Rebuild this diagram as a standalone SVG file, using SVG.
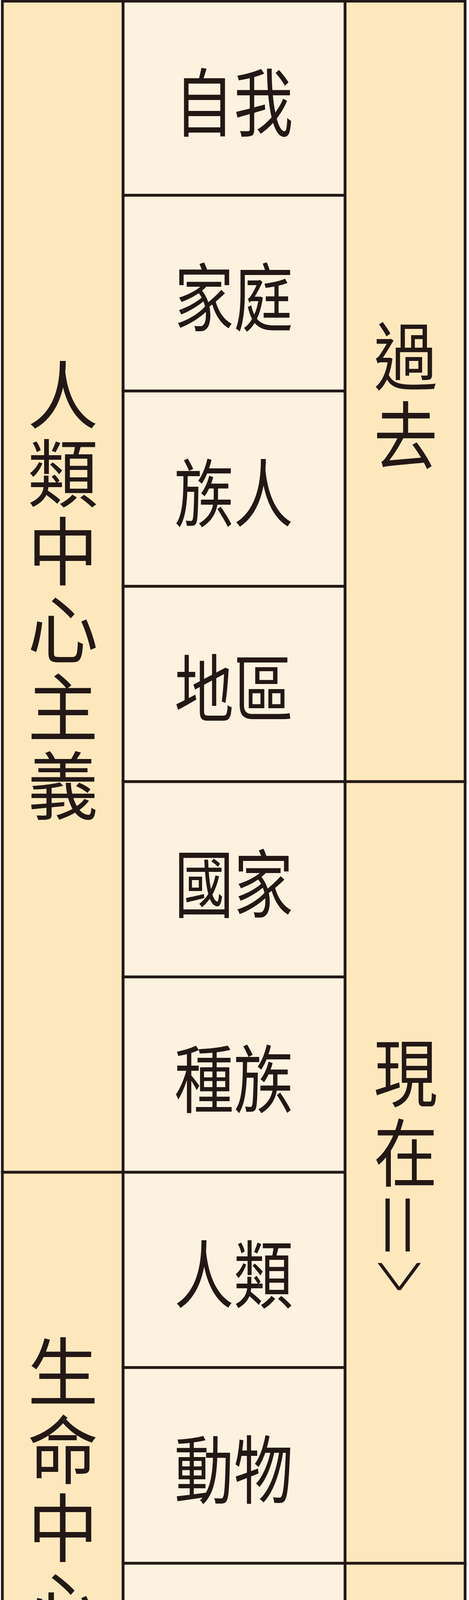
<svg xmlns="http://www.w3.org/2000/svg" width="1200" height="6996" viewBox="0 0 1200 6996">
<style>
.side{fill:#FDE8BE;stroke:#231815;stroke-width:7}
.mid{fill:#FDF2DF;stroke:#231815;stroke-width:7}
text{font-family:"Noto Sans CJK TC","Noto Sans CJK SC",sans-serif;fill:#231815;font-size:190px;font-weight:400}
.c{text-anchor:middle;dominant-baseline:central}
.arw{font-family:Inter,"Liberation Sans",sans-serif;font-weight:200;text-anchor:middle;dominant-baseline:central}
</style>
<rect x="0" y="0" width="1200" height="6996" fill="#FFFFFF"/>
<g id="nodes-left">
<g id="anthropocentrism"><rect class="side" x="6" y="3" width="309" height="2998"/>
<text class="c" transform="translate(161,0) scale(0.95,1)"><tspan x="0" y="1000">人</tspan><tspan x="0" y="1200">類</tspan><tspan x="0" y="1400">中</tspan><tspan x="0" y="1600">心</tspan><tspan x="0" y="1800">主</tspan><tspan x="0" y="2000">義</tspan></text></g>
<g id="biocentrism"><rect class="side" x="6" y="3001" width="309" height="2001"/>
<text class="c" transform="translate(161,0) scale(0.95,1)"><tspan x="0" y="3500">生</tspan><tspan x="0" y="3700">命</tspan><tspan x="0" y="3900">中</tspan><tspan x="0" y="4100">心</tspan><tspan x="0" y="4300">倫</tspan><tspan x="0" y="4500">理</tspan></text></g>
<g id="ecocentrism"><rect class="side" x="6" y="5002" width="309" height="1991"/>
<text class="c" transform="translate(161,0) scale(0.95,1)"><tspan x="0" y="5500">生</tspan><tspan x="0" y="5700">態</tspan><tspan x="0" y="5900">中</tspan><tspan x="0" y="6100">心</tspan><tspan x="0" y="6300">倫</tspan><tspan x="0" y="6500">理</tspan></text></g>
</g>
<g id="nodes-middle">
<g id="self"><rect class="mid" x="315" y="3" width="568" height="497"/><text class="c" transform="translate(598,251.5) scale(0.8,1)">自我</text></g>
<g id="family"><rect class="mid" x="315" y="500" width="568" height="501"/><text class="c" transform="translate(598,750.5) scale(0.8,1)">家庭</text></g>
<g id="clan"><rect class="mid" x="315" y="1001" width="568" height="500"/><text class="c" transform="translate(598,1251) scale(0.8,1)">族人</text></g>
<g id="region"><rect class="mid" x="315" y="1501" width="568" height="500"/><text class="c" transform="translate(598,1751) scale(0.8,1)">地區</text></g>
<g id="nation"><rect class="mid" x="315" y="2001" width="568" height="500"/><text class="c" transform="translate(598,2251) scale(0.8,1)">國家</text></g>
<g id="race"><rect class="mid" x="315" y="2501" width="568" height="500"/><text class="c" transform="translate(598,2751) scale(0.8,1)">種族</text></g>
<g id="humanity"><rect class="mid" x="315" y="3001" width="568" height="500"/><text class="c" transform="translate(598,3251) scale(0.8,1)">人類</text></g>
<g id="animals"><rect class="mid" x="315" y="3501" width="568" height="501"/><text class="c" transform="translate(598,3751.5) scale(0.8,1)">動物</text></g>
<g id="plants"><rect class="mid" x="315" y="4002" width="568" height="500"/><text class="c" transform="translate(598,4252) scale(0.8,1)">植物</text></g>
<g id="life"><rect class="mid" x="315" y="4502" width="568" height="500"/><text class="c" transform="translate(598,4752) scale(0.8,1)">生命</text></g>
<g id="rocks"><rect class="mid" x="315" y="5002" width="568" height="500"/><text class="c" transform="translate(598,5252) scale(0.8,1)">岩石</text></g>
<g id="ecosystem"><rect class="mid" x="315" y="5502" width="568" height="500"/><text class="c" transform="translate(598,5752) scale(0.8,1)">生態系</text></g>
<g id="earth"><rect class="mid" x="315" y="6002" width="568" height="500"/><text class="c" transform="translate(598,6252) scale(0.8,1)">地球</text></g>
<g id="universe"><rect class="mid" x="315" y="6502" width="568" height="491"/><text class="c" transform="translate(598,6747.5) scale(0.8,1)">宇宙</text></g>
</g>
<g id="nodes-right">
<g id="past"><rect class="side" x="883" y="3" width="307" height="1998"/>
<text class="c" transform="translate(1038,0) scale(0.86,1)"><tspan x="0" y="900">過</tspan><tspan x="0" y="1103">去</tspan></text></g>
<g id="present"><rect class="side" x="883" y="2001" width="307" height="2001"/>
<text class="c" transform="translate(1038,0) scale(0.86,1)"><tspan x="0" y="2734">現</tspan><tspan x="0" y="2939">在</tspan></text>
<text class="arw" transform="translate(1038,3136) rotate(90) scale(1.4,1)" style="font-size:260px">=</text>
<text class="arw" transform="translate(1038,3265) rotate(90) scale(0.8,1)" style="font-size:210px">&gt;</text></g>
<g id="future"><rect class="side" x="883" y="4002" width="307" height="2991"/>
<text class="c" transform="translate(1038,0) scale(0.86,1)"><tspan x="0" y="5133">未</tspan><tspan x="0" y="5336">來</tspan></text>
<text class="arw" transform="translate(1038,5533) rotate(90) scale(1.4,1)" style="font-size:260px">=</text>
<text class="arw" transform="translate(1038,5664) rotate(90) scale(0.8,1)" style="font-size:210px">&gt;</text></g>
</g>
<g id="connectors"></g>
</svg>
